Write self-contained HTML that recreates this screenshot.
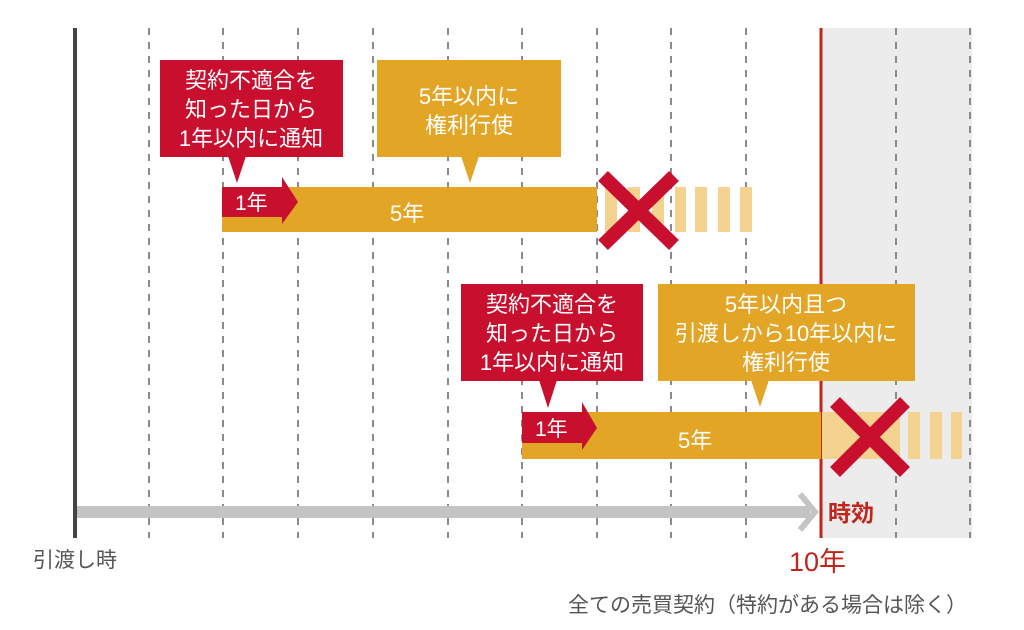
<!DOCTYPE html>
<html><head><meta charset="utf-8"><style>
html,body{margin:0;padding:0;background:#fff;}
svg{display:block;}
text{font-family:"Liberation Sans","Noto Sans CJK JP",sans-serif;}
</style></head><body>
<svg width="1024" height="630" viewBox="0 0 1024 630" xmlns="http://www.w3.org/2000/svg">
<rect x="821" y="28" width="151" height="510" fill="#ececec"/>
<g stroke="#8a8a8a" stroke-width="2" stroke-dasharray="7,7">
<line x1="149" y1="28" x2="149" y2="538"/>
<line x1="223" y1="28" x2="223" y2="538"/>
<line x1="298" y1="28" x2="298" y2="538"/>
<line x1="373" y1="28" x2="373" y2="538"/>
<line x1="448" y1="28" x2="448" y2="538"/>
<line x1="522" y1="28" x2="522" y2="538"/>
<line x1="597" y1="28" x2="597" y2="538"/>
<line x1="671" y1="28" x2="671" y2="538"/>
<line x1="746" y1="28" x2="746" y2="538"/>
<line x1="896" y1="28" x2="896" y2="538"/>
<line x1="970" y1="28" x2="970" y2="538"/>
</g>
<line x1="75" y1="28" x2="75" y2="538" stroke="#444" stroke-width="4"/>
<line x1="821" y1="28" x2="821" y2="538" stroke="#c0251b" stroke-width="3"/>
<rect x="77" y="506" width="733" height="12" fill="#c4c4c4"/>
<polyline points="800,494 815,512 800,530" fill="none" stroke="#c4c4c4" stroke-width="6"/>

<!-- row 1 -->
<rect x="222" y="187" width="375" height="45" fill="#e2a526"/>
<g fill="#f3d38f">
<rect x="605" y="187" width="12" height="45"/><rect x="628" y="187" width="12" height="45"/>
<rect x="652" y="187" width="12" height="45"/><rect x="675" y="187" width="11" height="45"/>
<rect x="695" y="187" width="12" height="45"/><rect x="718" y="187" width="12" height="45"/>
<rect x="740" y="187" width="12" height="45"/></g>
<polygon points="222,187 282,187 282,177 298,202 282,224 282,217 222,217" fill="#c8102e"/>
<text x="235" y="210" font-size="21" fill="#fff">1年</text>
<text x="390" y="221" font-size="22" fill="#fff">5年</text>
<g stroke="#c8102e" stroke-width="14"><line x1="603" y1="176" x2="674" y2="245"/><line x1="674" y1="176" x2="603" y2="245"/></g>

<rect x="160" y="60" width="183" height="97" fill="#c8102e"/>
<polygon points="228,156 246,156 237,183" fill="#c8102e"/>
<g font-size="22" fill="#fff" text-anchor="middle">
<text x="251" y="88">契約不適合を</text><text x="251" y="117">知った日から</text><text x="251" y="146">1年以内に通知</text></g>
<rect x="377" y="60" width="184" height="97" fill="#e2a526"/>
<polygon points="461,156 479,156 470,183" fill="#e2a526"/>
<g font-size="22" fill="#fff" text-anchor="middle">
<text x="469" y="104">5年以内に</text><text x="469" y="133">権利行使</text></g>

<!-- row 2 -->
<rect x="522" y="412" width="299" height="47" fill="#e2a526"/>
<rect x="822" y="412" width="78" height="47" fill="#f3d38f"/>
<g fill="#f3d38f"><rect x="908" y="412" width="12" height="47"/><rect x="930" y="412" width="12" height="47"/><rect x="951" y="412" width="11" height="47"/></g>
<polygon points="522,412 582,412 582,402 597,428 582,450 582,443 522,443" fill="#c8102e"/>
<text x="535" y="436" font-size="21" fill="#fff">1年</text>
<text x="678" y="448" font-size="22" fill="#fff">5年</text>
<g stroke="#c8102e" stroke-width="14"><line x1="835" y1="402" x2="905" y2="472"/><line x1="905" y1="402" x2="835" y2="472"/></g>

<rect x="461" y="284" width="182" height="97" fill="#c8102e"/>
<polygon points="539,380 557,380 548,408" fill="#c8102e"/>
<g font-size="22" fill="#fff" text-anchor="middle">
<text x="552" y="312">契約不適合を</text><text x="552" y="341">知った日から</text><text x="552" y="370">1年以内に通知</text></g>
<rect x="658" y="284" width="257" height="97" fill="#e2a526"/>
<polygon points="751,380 769,380 760,407" fill="#e2a526"/>
<g font-size="22" fill="#fff" text-anchor="middle">
<text x="786" y="312">5年以内且つ</text><text x="786" y="341">引渡しから10年以内に</text><text x="786" y="370">権利行使</text></g>

<text x="828" y="521" font-size="23" font-weight="bold" fill="#c0251b">時効</text>
<text x="33" y="567" font-size="21" fill="#555">引渡し時</text>
<text x="789" y="571" font-size="27" fill="#c0251b">10年</text>
<text x="568" y="612" font-size="21" fill="#555">全ての売買契約（特約がある場合は除く）</text>
</svg>
</body></html>
